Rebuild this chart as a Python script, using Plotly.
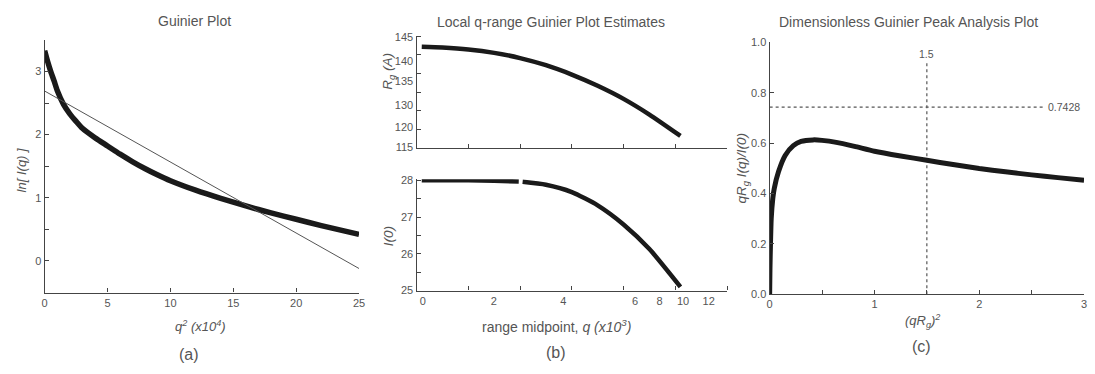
import plotly.graph_objects as go

# ---------------- data ----------------
# (a) Guinier plot
guinier_q2 = [0, 0.25, 0.5, 0.75, 1, 1.5, 2, 2.5, 3, 4, 5, 6, 7, 8, 9, 10, 12, 14, 16, 18, 20, 22, 25]
guinier_lnI = [3.33, 3.15, 2.99, 2.85, 2.70, 2.48, 2.33, 2.21, 2.10, 1.95, 1.82, 1.69, 1.57, 1.46, 1.36, 1.27, 1.12, 0.99, 0.87, 0.76, 0.66, 0.56, 0.42]
fit_q2 = [0, 25]
fit_lnI = [2.69, -0.12]

# (b) local q-range estimates
rg_q = [0.2, 1, 2, 3, 4, 5, 6, 7, 8, 9, 10.2]
rg_val = [142.1, 141.9, 141.4, 140.5, 139.1, 137.2, 134.7, 131.7, 128.2, 124.0, 118.3]
i0_q = [0.2, 1, 2, 3, 3.95, None, 4.1, 5, 6, 7, 8, 9, 10.2]
i0_val = [28.0, 28.0, 28.0, 27.99, 27.97, None, 27.96, 27.88, 27.68, 27.32, 26.8, 26.13, 25.1]
b_tick_pos = [0.24, 2.99, 5.67, 8.45, 9.39, 10.3, 11.29]
b_tick_text = ["0", "2", "4", "6", "8", "10", "12"]
rg_tick_pos = [144.7, 138.2, 132.9, 126.5, 120.6, 115.4]
rg_tick_text = ["145", "140", "135", "130", "120", "115"]

# (c) dimensionless Guinier peak analysis
peak_x = [0, 0.003, 0.008, 0.015, 0.03, 0.044, 0.085, 0.148, 0.226, 0.3, 0.415, 0.5, 0.636,
          0.81, 1.0, 1.25, 1.5, 1.75, 2.0, 2.25, 2.5, 2.75, 3.0]
peak_y = [0, 0.10, 0.20, 0.30, 0.38, 0.42, 0.487, 0.551, 0.59, 0.607, 0.613, 0.611, 0.603,
          0.587, 0.568, 0.549, 0.532, 0.515, 0.499, 0.486, 0.474, 0.463, 0.453]
ref_peak_x = 1.5
ref_peak_y = 0.7428

# ---------------- figure ----------------
W, H = 1095, 374
FONT = "Liberation Sans, Arial, sans-serif"
AX = "#444444"
TXT = "#555555"

def px_x(p):
    return p / W

def px_y(p):
    return 1 - p / H

fig = go.Figure()

curve = dict(color="#1a1a1a", shape="spline", smoothing=0.6)

fig.add_trace(go.Scatter(x=guinier_q2, y=guinier_lnI, mode="lines",
                         line=dict(width=5.5, **curve), xaxis="x", yaxis="y"))
fig.add_trace(go.Scatter(x=fit_q2, y=fit_lnI, mode="lines",
                         line=dict(width=1, color="#555555"), xaxis="x", yaxis="y"))

fig.add_trace(go.Scatter(x=rg_q, y=rg_val, mode="lines",
                         line=dict(width=4.5, **curve), xaxis="x2", yaxis="y2"))
fig.add_trace(go.Scatter(x=i0_q, y=i0_val, mode="lines", connectgaps=False,
                         line=dict(width=4.5, **curve), xaxis="x3", yaxis="y3"))

fig.add_trace(go.Scatter(x=[0, 2.62], y=[ref_peak_y, ref_peak_y], mode="lines",
                         line=dict(width=1.2, color="#555555", dash="3px,3px"),
                         xaxis="x4", yaxis="y4"))
fig.add_trace(go.Scatter(x=[ref_peak_x, ref_peak_x], y=[0, 0.92], mode="lines",
                         line=dict(width=1.2, color="#555555", dash="3px,3px"),
                         xaxis="x4", yaxis="y4"))
fig.add_trace(go.Scatter(x=peak_x, y=peak_y, mode="lines",
                         line=dict(width=5, **curve), xaxis="x4", yaxis="y4"))

axbase = dict(showline=True, linecolor=AX, linewidth=1.3, showgrid=False, zeroline=False,
              ticks="inside", ticklen=4, tickcolor=AX, tickwidth=1,
              tickfont=dict(family=FONT, size=11, color=TXT), fixedrange=True)

fig.update_layout(
    width=W, height=H,
    margin=dict(l=0, r=0, t=0, b=0),
    paper_bgcolor="white", plot_bgcolor="white",
    showlegend=False,
    font=dict(family=FONT, color=TXT),
    # (a)
    xaxis=dict(axbase, domain=[px_x(42), px_x(359)], range=[0, 25], anchor="y",
               tickmode="array", tickvals=[0, 5, 10, 15, 20, 25]),
    yaxis=dict(axbase, domain=[px_y(296), px_y(35)], range=[-0.5, 3.5], anchor="x",
               tickmode="array", tickvals=[0, 1, 2, 3],
               minor=dict(tickmode="array", tickvals=[-0.5, 0.5, 1.5, 2.5, 3.5],
                          ticks="inside", ticklen=4, tickcolor=AX)),
    # (b) top
    xaxis2=dict(axbase, domain=[px_x(417), px_x(730)], range=[0, 12], anchor="y2",
                tickmode="array", tickvals=[0, 2, 4, 6, 8, 10, 12], showticklabels=False),
    yaxis2=dict(axbase, domain=[px_y(147), px_y(31)], range=[115, 145], anchor="x2",
                tickmode="array", tickvals=rg_tick_pos, ticktext=rg_tick_text, ticks="",
                minor=dict(tickmode="array", tickvals=[115, 120, 125, 130, 135, 140, 145],
                           ticks="inside", ticklen=4, tickcolor=AX)),
    # (b) bottom
    xaxis3=dict(axbase, domain=[px_x(417), px_x(730)], range=[0, 12], anchor="y3",
                tickmode="array", tickvals=b_tick_pos, ticktext=b_tick_text, ticks="",
                minor=dict(tickmode="array", tickvals=[0, 2, 4, 6, 8, 10, 12],
                           ticks="inside", ticklen=4, tickcolor=AX)),
    yaxis3=dict(axbase, domain=[px_y(294), px_y(179)], range=[25, 28.03], anchor="x3",
                tickmode="array", tickvals=[25, 26, 27, 28],
                minor=dict(tickmode="array", tickvals=[25.5, 26.5, 27.5],
                           ticks="inside", ticklen=4, tickcolor=AX)),
    # (c)
    xaxis4=dict(axbase, domain=[px_x(773), px_x(1090)], range=[0, 3], anchor="y4",
                tickmode="array", tickvals=[0, 1, 2, 3],
                minor=dict(tickmode="array", tickvals=[0.5, 1.5, 2.5],
                           ticks="inside", ticklen=4, tickcolor=AX)),
    yaxis4=dict(axbase, domain=[px_y(297.7), px_y(37.7)], range=[0, 1], anchor="x4",
                tickmode="array", tickvals=[0, 0.2, 0.4, 0.6, 0.8, 1.0], tickformat=".1f"),
)

def ann(text, x, y, size=12, xanchor="center", yanchor="middle", angle=0, color=TXT):
    fig.add_annotation(text=text, x=px_x(x), y=px_y(y), xref="paper", yref="paper",
                       showarrow=False, xanchor=xanchor, yanchor=yanchor, textangle=angle,
                       font=dict(family=FONT, size=size, color=color))

# titles
ann("Guinier Plot", 193, 15, size=14)
ann("Local q-range Guinier Plot Estimates", 553, 17, size=14)
ann("Dimensionless Guinier Peak Analysis Plot", 913, 17, size=14)

# axis titles
ann("<i>q<sup>2</sup> (x10<sup>4</sup>)</i>", 199, 331, size=13)
ann("<i>ln[ I(q) ]</i>", 19, 170, size=13, angle=-90)
ann("range midpoint, <i>q (x10<sup>3</sup>)</i>", 558, 331, size=14)
ann("<i>R<sub>g</sub> (A)</i>", 389, 67, size=13.5, angle=-90)
ann("<i>I(0)</i>", 389, 238, size=13.5, angle=-90)
ann("<i>(qR<sub>g</sub>)<sup>2</sup></i>", 927, 325, size=13)
ann("<i>qR<sub>g</sub> I(q)/I(0)</i>", 746, 167, size=13.5, angle=-90)

# panel labels
ann("(a)", 188, 360, size=16)
ann("(b)", 558, 358, size=16)
ann("(c)", 926, 352, size=16)

# reference labels in (c)
fig.add_annotation(text="0.7428", x=2.81, y=ref_peak_y, xref="x4", yref="y4", showarrow=False,
                   font=dict(family=FONT, size=10.5, color=TXT))
fig.add_annotation(text="1.5", x=ref_peak_x, y=0.955, xref="x4", yref="y4", showarrow=False,
                   font=dict(family=FONT, size=10.5, color=TXT))

fig.write_html("out.html", config={"displayModeBar": False},
               post_script="document.body.style.margin='0';document.body.style.overflow='hidden';")
